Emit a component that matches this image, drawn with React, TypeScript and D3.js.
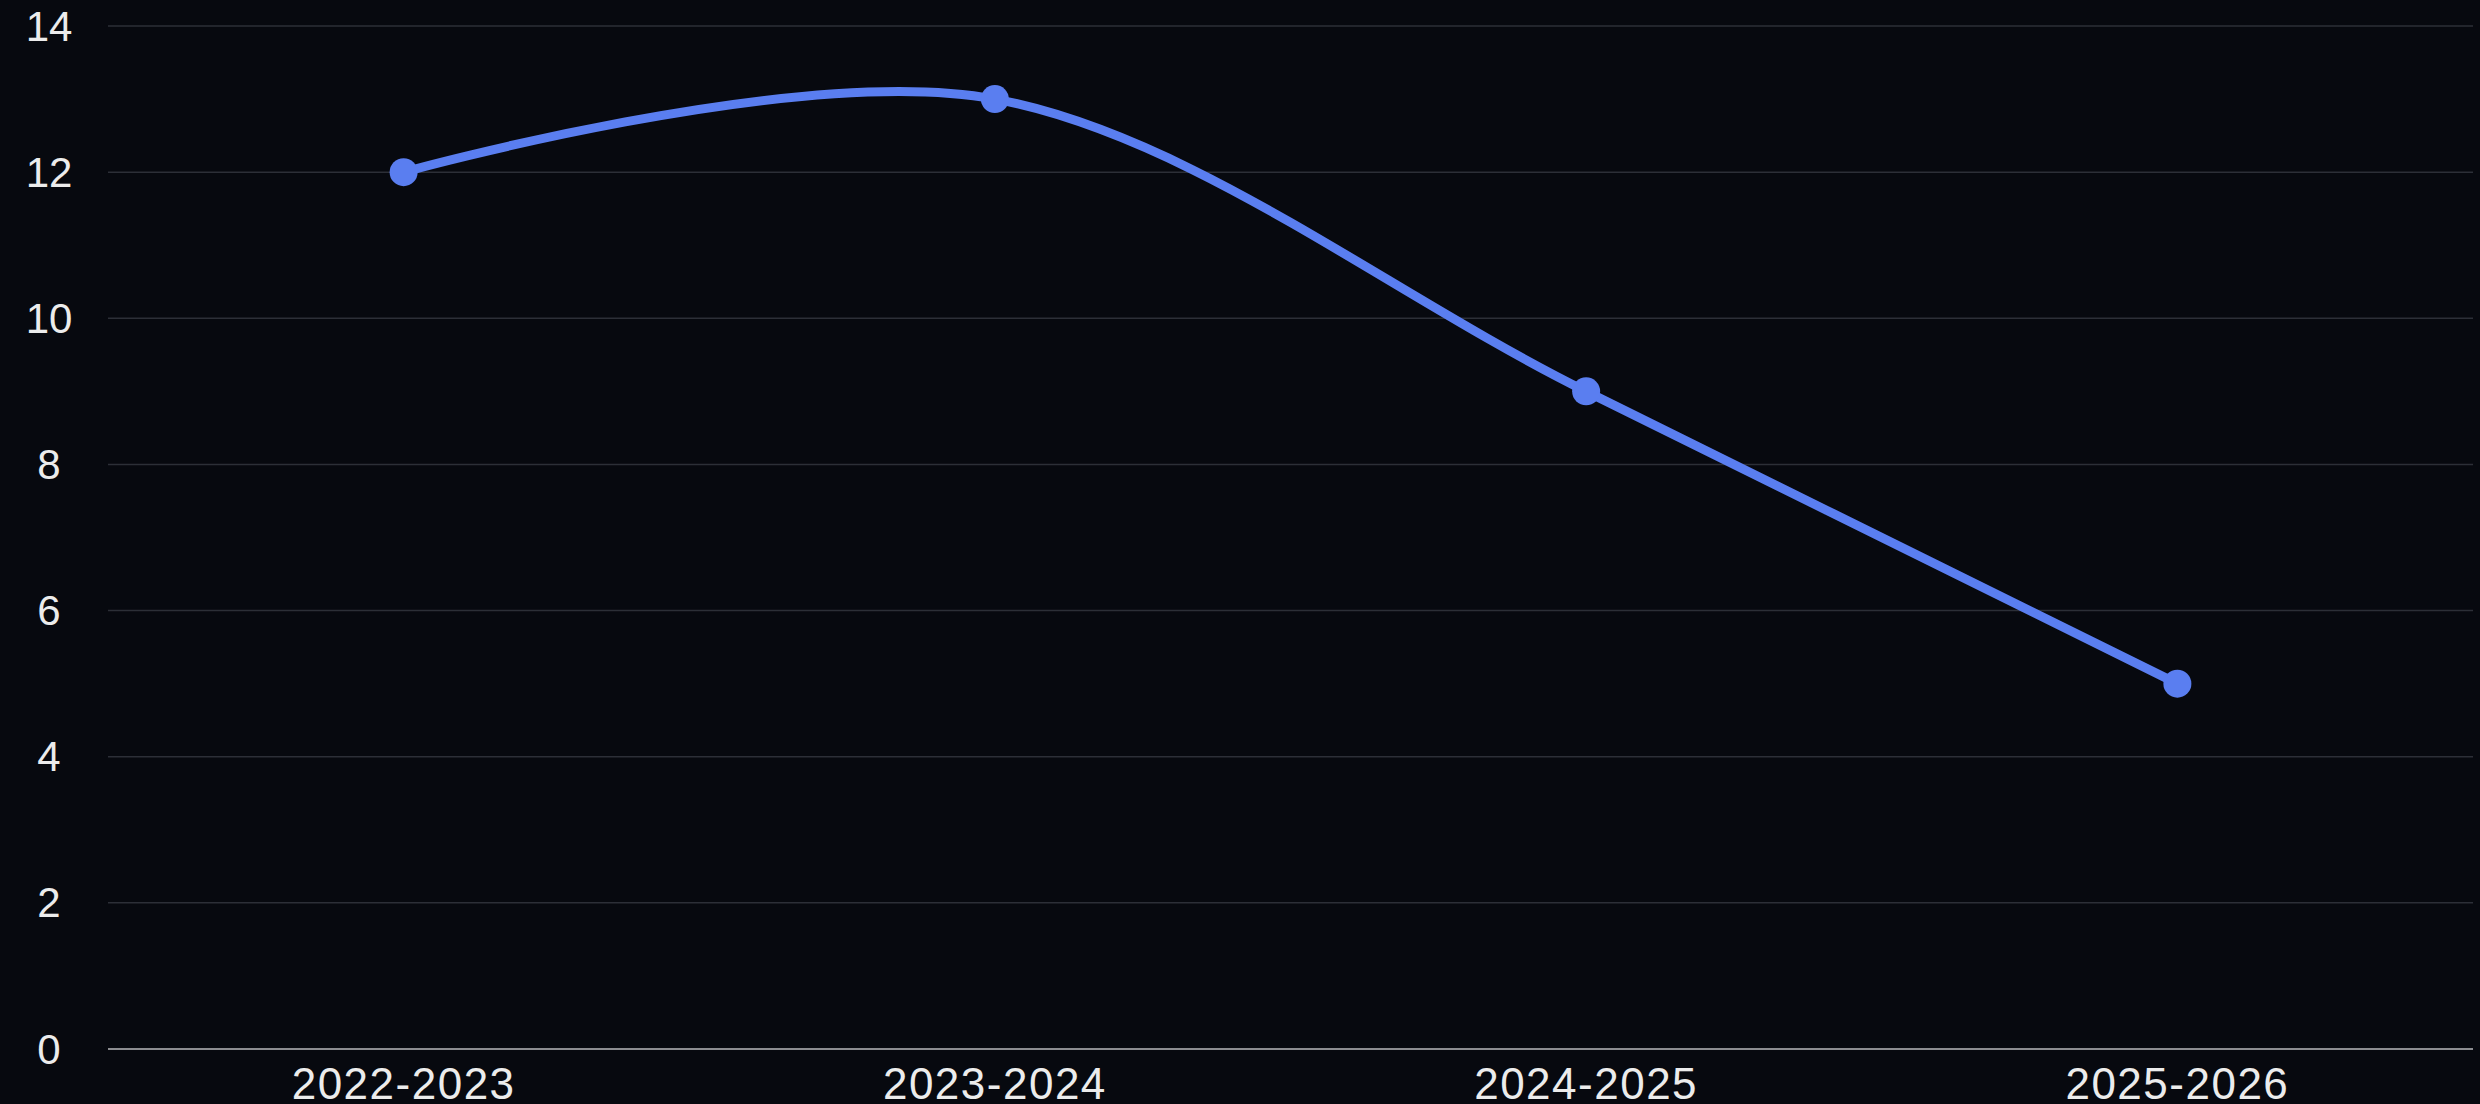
import React, { useEffect, useRef } from "react";
import * as d3 from "d3";

const seasons = ["2022-2023", "2023-2024", "2024-2025", "2025-2026"];
const counts = [12, 13, 9, 5];
const yTicks = [0, 2, 4, 6, 8, 10, 12, 14];

const W = 2480;
const H = 1104;

const App: React.FC = () => {
  const svgRef = useRef<SVGSVGElement | null>(null);

  useEffect(() => {
    document.body.style.margin = "0";
    document.body.style.background = "#07090f";

    const svg = d3.select(svgRef.current);
    svg.selectAll("*").remove();

    const left = 108;
    const right = 2473;
    const top = 26;
    const bottom = 1049;

    const x = d3.scalePoint<string>().domain(seasons).range([left, right]).padding(0.5);
    const y = d3.scaleLinear().domain([0, 14]).range([bottom, top]);

    svg.append("rect").attr("width", W).attr("height", H).attr("fill", "#07090f");

    // grid
    svg
      .append("g")
      .selectAll("line")
      .data(yTicks.filter((t) => t !== 0))
      .join("line")
      .attr("x1", left)
      .attr("x2", right)
      .attr("y1", (d) => y(d))
      .attr("y2", (d) => y(d))
      .attr("stroke", "#2c2f37")
      .attr("stroke-width", 1.5);

    // baseline
    svg
      .append("line")
      .attr("x1", left)
      .attr("x2", right)
      .attr("y1", y(0))
      .attr("y2", y(0))
      .attr("stroke", "#8c8d91")
      .attr("stroke-width", 2);

    // y labels
    svg
      .append("g")
      .selectAll("text")
      .data(yTicks)
      .join("text")
      .attr("x", 49)
      .attr("y", (d) => y(d))
      .attr("text-anchor", "middle")
      .attr("dominant-baseline", "central")
      .attr("fill", "#ececec")
      .style("font-family", "'Liberation Sans', Arial, sans-serif")
      .style("font-size", "42px")
      .text((d) => d);

    // x labels
    svg
      .append("g")
      .selectAll("text")
      .data(seasons)
      .join("text")
      .attr("x", (d) => x(d) ?? 0)
      .attr("y", 1083)
      .attr("text-anchor", "middle")
      .attr("dominant-baseline", "central")
      .attr("fill", "#ececec")
      .style("font-family", "'Liberation Sans', Arial, sans-serif")
      .style("font-size", "44px")
      .style("letter-spacing", "1.5px")
      .text((d) => d);

    const pts = seasons.map((s, i) => ({ s, v: counts[i] }));

    const line = d3
      .line<{ s: string; v: number }>()
      .x((d) => x(d.s) ?? 0)
      .y((d) => y(d.v))
      .curve(d3.curveCardinal);

    svg
      .append("path")
      .datum(pts)
      .attr("d", line)
      .attr("fill", "none")
      .attr("stroke", "#5a7ef0")
      .attr("stroke-width", 9)
      .attr("stroke-linecap", "round");

    svg
      .append("g")
      .selectAll("circle")
      .data(pts)
      .join("circle")
      .attr("cx", (d) => x(d.s) ?? 0)
      .attr("cy", (d) => y(d.v))
      .attr("r", 14)
      .attr("fill", "#5a7ef0");
  }, []);

  return (
    <div style={{ position: "absolute", left: 0, top: 0, width: W, height: H }}>
      <svg ref={svgRef} width={W} height={H} style={{ display: "block" }} />
    </div>
  );
};

export default App;
